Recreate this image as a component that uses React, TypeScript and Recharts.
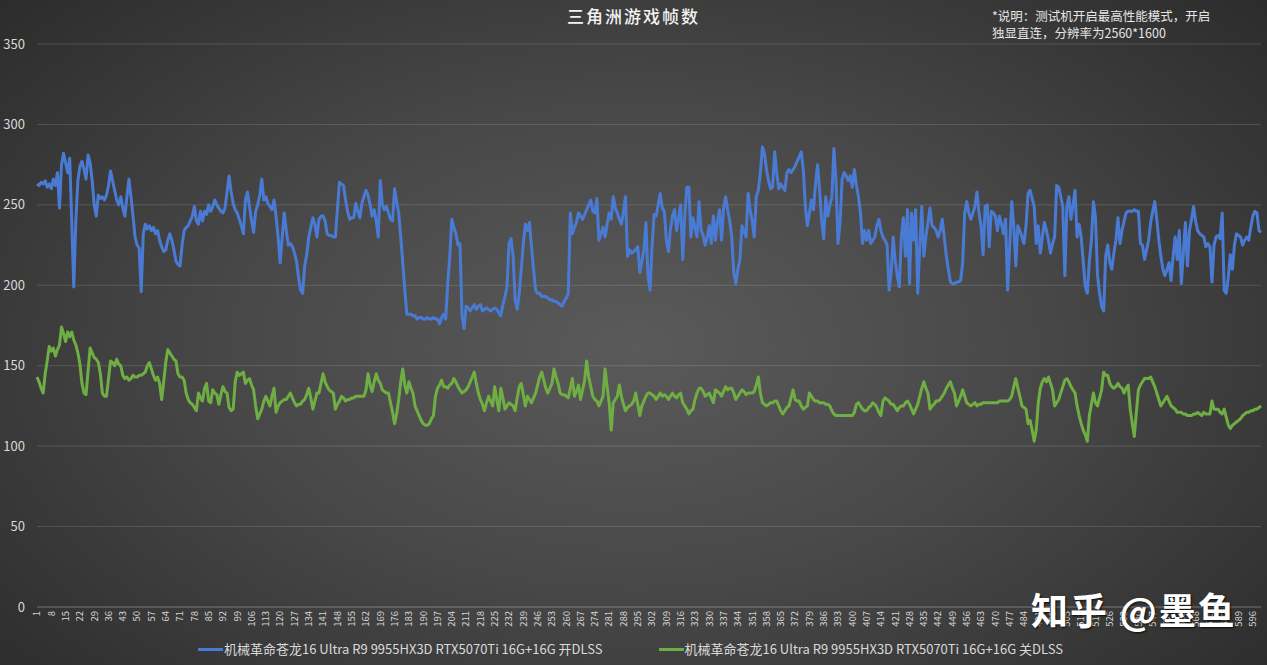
import React from 'react';
import { LineChart, Line, XAxis, YAxis, CartesianGrid, Legend } from 'recharts';

// frame index 1..600
const categories = Array.from({ length: 600 }, (_, i) => String(i + 1));

const yTicks = [0, 50, 100, 150, 200, 250, 300, 350];

const seriesOnName = '机械革命苍龙16 Ultra R9 9955HX3D RTX5070Ti 16G+16G 开DLSS';
const seriesOffName = '机械革命苍龙16 Ultra R9 9955HX3D RTX5070Ti 16G+16G 关DLSS';

// 开DLSS
const dlssOn = [
  263, 262, 264, 263, 265, 261, 263, 260, 266, 262,
  270, 248, 275, 282, 276, 270, 279, 240, 199, 240,
  265, 274, 277, 272, 266, 281, 276, 265, 250, 243,
  256, 254, 255, 253, 256, 262, 271, 265, 259, 253,
  250, 255, 248, 243, 255, 266, 255, 243, 230, 225,
  223, 196, 232, 238, 235, 237, 234, 236, 232, 234,
  228, 224, 221, 222, 228, 232, 228, 222, 215, 213,
  212, 225, 234, 236, 237, 240, 243, 249, 240, 238,
  246, 240, 246, 244, 250, 246, 249, 253, 250, 248,
  246, 245, 248, 258, 268, 258, 251, 247, 245, 241,
  237, 232, 253, 258, 249, 240, 233, 246, 250, 256,
  266, 253, 255, 251, 249, 247, 253, 243, 230, 214,
  230, 245, 234, 225, 226, 224, 220, 215, 205, 197,
  195, 212, 219, 230, 236, 242, 238, 230, 241, 243,
  243, 240, 232, 231, 231, 230, 230, 247, 264, 263,
  262, 253, 246, 241, 242, 242, 251, 246, 242, 251,
  255, 259, 256, 250, 243, 247, 240, 230, 265, 250,
  247, 249, 245, 241, 240, 260, 252, 245, 230, 214,
  197, 182, 182, 182, 181, 181, 179, 180, 180, 179,
  179, 180, 179, 179, 180, 179, 179, 176, 180, 182,
  179, 201, 218, 241, 236, 232, 225, 226, 181, 173,
  187, 186, 184, 186, 188, 185, 187, 188, 184, 185,
  186, 185, 184, 185, 186, 185, 183, 181, 188, 193,
  199, 226, 229, 218, 191, 185, 195, 210, 226, 238,
  234, 239, 224, 210, 197, 195, 195, 193, 193, 193,
  192, 191, 191, 190, 190, 189, 188, 187, 190, 192,
  195, 245, 232, 236, 239, 245, 243, 241, 244, 247,
  250, 253, 246, 245, 254, 228, 232, 236, 230, 238,
  245, 241, 255, 248, 245, 241, 238, 246, 255, 218,
  222, 220, 221, 222, 224, 208, 215, 222, 239, 206,
  197, 224, 244, 243, 250, 257, 248, 246, 228, 221,
  235, 243, 247, 234, 242, 250, 216, 243, 261, 261,
  230, 242, 236, 230, 252, 234, 231, 225, 230, 237,
  226, 243, 228, 240, 247, 228, 248, 255, 247, 240,
  230, 208, 201, 210, 216, 237, 234, 230, 257, 247,
  240, 230, 255, 259, 270, 286, 282, 272, 265, 260,
  261, 283, 270, 260, 263, 261, 259, 270, 272, 270,
  272, 274, 277, 280, 283, 272, 249, 237, 245, 253,
  247, 263, 275, 259, 240, 229, 255, 243, 250, 255,
  285, 265, 226, 239, 266, 270, 268, 265, 268, 261,
  272, 262, 255, 245, 226, 234, 228, 234, 226, 228,
  230, 237, 241, 234, 230, 228, 225, 197, 208, 230,
  215, 206, 199, 230, 242, 218, 247, 201, 245, 228,
  247, 195, 224, 249, 218, 230, 239, 248, 237, 236,
  234, 230, 234, 241, 230, 218, 210, 202, 201, 201,
  202, 202, 203, 214, 245, 252, 245, 241, 245, 249,
  258, 245, 237, 219, 249, 250, 224, 246, 245, 243,
  234, 243, 238, 232, 241, 197, 224, 252, 237, 212,
  237, 234, 230, 226, 237, 257, 259, 254, 249, 226,
  237, 220, 230, 239, 234, 228, 220, 226, 230, 262,
  261, 255, 249, 206, 249, 255, 241, 250, 259, 230,
  238, 230, 215, 199, 195, 215, 228, 252, 242, 206,
  195, 187, 184, 218, 225, 214, 210, 220, 228, 242,
  226, 234, 240, 245, 246, 246, 246, 247, 246, 246,
  226, 225, 216, 222, 228, 239, 246, 252, 241, 228,
  218, 210, 206, 210, 214, 203, 218, 230, 216, 234,
  201, 220, 239, 212, 234, 241, 249, 240, 234, 232,
  231, 230, 224, 226, 224, 202, 225, 230, 231, 229,
  245, 197, 195, 205, 219, 210, 225, 232, 231, 230,
  225, 228, 230, 228, 236, 243, 246, 245, 234, 233,
];

// 关DLSS
const dlssOff = [
  143, 140, 136, 133, 145, 153, 162, 159, 161, 156,
  160, 163, 174, 170, 165, 171, 168, 171, 166, 163,
  158, 151, 139, 133, 132, 147, 161, 158, 155, 154,
  152, 145, 133, 131, 131, 142, 153, 152, 150, 154,
  151, 150, 144, 142, 143, 141, 142, 144, 143, 143,
  144, 144, 145, 146, 150, 152, 148, 144, 141, 143,
  139, 129, 140, 152, 160, 158, 156, 154, 153, 145,
  143, 143, 141, 133, 129, 127, 126, 124, 122, 133,
  130, 128, 136, 139, 128, 127, 135, 133, 132, 126,
  132, 137, 134, 133, 124, 122, 123, 140, 146, 144,
  145, 146, 139, 141, 142, 138, 135, 125, 117, 120,
  123, 128, 131, 128, 125, 131, 136, 121, 125, 127,
  128, 129, 129, 131, 133, 130, 127, 125, 126, 126,
  128, 129, 132, 136, 130, 123, 128, 133, 133, 139,
  145, 140, 137, 135, 134, 133, 123, 126, 128, 131,
  130, 128, 129, 129, 130, 130, 131, 131, 131, 131,
  131, 135, 145, 138, 134, 140, 145, 141, 139, 135,
  134, 133, 133, 127, 121, 114, 120, 129, 140, 148,
  138, 133, 140, 136, 133, 125, 122, 119, 116, 114,
  113, 113, 114, 117, 119, 131, 136, 138, 141, 137,
  137, 136, 138, 139, 142, 140, 137, 135, 133, 134,
  135, 137, 140, 143, 146, 139, 133, 129, 126, 122,
  127, 131, 128, 125, 137, 129, 122, 136, 130, 123,
  125, 127, 126, 125, 122, 130, 137, 139, 132, 125,
  131, 129, 127, 130, 133, 138, 143, 146, 141, 136,
  133, 136, 139, 148, 143, 139, 133, 132, 132, 131,
  130, 136, 142, 131, 134, 138, 129, 135, 141, 153,
  143, 137, 131, 129, 128, 125, 128, 131, 148, 137,
  127, 110, 127, 129, 131, 138, 131, 126, 122, 124,
  125, 126, 128, 133, 126, 119, 125, 128, 131, 133,
  133, 132, 131, 129, 131, 133, 131, 132, 131, 129,
  131, 133, 131, 130, 132, 133, 127, 125, 123, 120,
  122, 123, 129, 133, 136, 136, 134, 131, 132, 133,
  130, 127, 135, 134, 133, 131, 134, 137, 135, 136,
  136, 133, 129, 131, 133, 135, 134, 132, 133, 133,
  133, 134, 138, 143, 133, 127, 126, 125, 126, 127,
  127, 128, 128, 125, 122, 120, 122, 124, 125, 130,
  135, 129, 128, 128, 125, 123, 124, 125, 133, 131,
  129, 128, 128, 127, 127, 127, 126, 126, 125, 122,
  120, 119, 119, 119, 119, 119, 119, 119, 119, 119,
  121, 126, 127, 125, 123, 122, 122, 124, 125, 127,
  126, 124, 121, 119, 128, 130, 129, 128, 126, 126,
  124, 122, 124, 125, 125, 127, 128, 126, 123, 120,
  123, 126, 131, 136, 140, 136, 133, 123, 125, 126,
  128, 128, 129, 131, 133, 136, 138, 140, 136, 133,
  125, 128, 131, 135, 131, 127, 126, 125, 126, 127,
  125, 126, 126, 127, 127, 127, 127, 127, 127, 127,
  127, 128, 128, 128, 128, 128, 129, 131, 137, 142,
  136, 131, 125, 124, 123, 114, 116, 110, 103, 110,
  127, 136, 140, 142, 140, 143, 139, 135, 125, 127,
  129, 133, 137, 141, 142, 140, 137, 135, 133, 125,
  119, 114, 110, 107, 103, 119, 126, 133, 127, 125,
  130, 135, 146, 144, 144, 139, 137, 136, 137, 139,
  137, 136, 133, 136, 138, 123, 114, 106, 121, 135,
  138, 140, 142, 142, 142, 143, 140, 137, 133, 129,
  125, 127, 129, 131, 128, 125, 124, 123, 121, 121,
  121, 120, 120, 119, 119, 119, 120, 120, 121, 120,
  119, 121, 120, 120, 120, 128, 123, 123, 123, 121,
  120, 123, 118, 113, 111, 113, 114, 115, 116, 117,
  119, 120, 121, 121, 122, 122, 123, 123, 124, 125,
];

const data = categories.map((c, i) => ({ frame: c, on: dlssOn[i], off: dlssOff[i] }));

const BLUE = '#4a7bd4';
const GREEN = '#6fae43';
const FONT = "'Noto Sans CJK SC', 'Noto Sans', sans-serif";

const XTick = ({ x, y, payload }: any) => (
  <text
    x={x}
    y={y}
    transform={`rotate(-90 ${x} ${y})`}
    textAnchor="end"
    dy="0.35em"
    fill="#d4d4d4"
    fontSize={9.5}
    fontFamily={FONT}
  >
    {payload.value}
  </text>
);

const renderLegend = () => (
  <div style={{ display: 'flex', justifyContent: 'center', gap: 56, fontFamily: FONT, fontSize: 13, color: '#d9d9d9', lineHeight: '24px' }}>
    {[{ name: seriesOnName, color: BLUE }, { name: seriesOffName, color: GREEN }].map((s) => (
      <div key={s.name} style={{ display: 'flex', alignItems: 'center' }}>
        <span style={{ display: 'inline-block', width: 25, height: 3, background: s.color, marginRight: 1 }} />
        <span>{s.name}</span>
      </div>
    ))}
  </div>
);

export default function App() {
  return (
    <div
      style={{
        position: 'absolute',
        left: 0,
        top: 0,
        width: 1267,
        height: 665,
        overflow: 'hidden',
        background: 'radial-gradient(ellipse 70% 80% at 50% 52%, #5a5a5a 0%, #484848 45%, #2a2a2a 100%)',
        fontFamily: FONT,
      }}
    >
      <div style={{ position: 'absolute', top: 3, left: 0, width: 1267, textAlign: 'center', color: '#f2f2f2', fontSize: 17, letterSpacing: 2, fontWeight: 500 }}>
        三角洲游戏帧数
      </div>
      <div style={{ position: 'absolute', top: 7, left: 992, color: '#e6e6e6', fontSize: 12.5, lineHeight: '17px' }}>
        <div>*说明：测试机开启最高性能模式，开启</div>
        <div>独显直连，分辨率为2560*1600</div>
      </div>

      <LineChart width={1267} height={665} data={data} margin={{ top: 44, right: 6, bottom: 4, left: 0 }}>
        <CartesianGrid vertical={false} stroke="rgba(255,255,255,0.14)" />
        <XAxis
          dataKey="frame"
          interval={6}
          tick={<XTick />}
          tickLine={false}
          tickSize={0}
          tickMargin={4}
          height={30}
          axisLine={{ stroke: 'rgba(255,255,255,0.2)' }}
        />
        <YAxis
          domain={[0, 350]}
          ticks={yTicks}
          width={37}
          axisLine={false}
          tickLine={false}
          tickSize={0}
          tickMargin={12}
          tick={{ fill: '#d9d9d9', fontSize: 13, fontFamily: FONT }}
        />
        <Legend verticalAlign="bottom" height={24} content={renderLegend} />
        <Line type="linear" dataKey="on" name={seriesOnName} stroke={BLUE} strokeWidth={3} dot={false} isAnimationActive={false} strokeLinejoin="round" />
        <Line type="linear" dataKey="off" name={seriesOffName} stroke={GREEN} strokeWidth={3} dot={false} isAnimationActive={false} strokeLinejoin="round" />
      </LineChart>

      <div
        style={{
          position: 'absolute',
          left: 1031,
          top: 582,
          color: '#ffffff',
          fontSize: 37,
          fontWeight: 700,
          letterSpacing: 2,
          textShadow: '1px 1px 2px rgba(0,0,0,0.8)',
          whiteSpace: 'nowrap',
        }}
      >
        知乎 @墨鱼
      </div>
    </div>
  );
}
